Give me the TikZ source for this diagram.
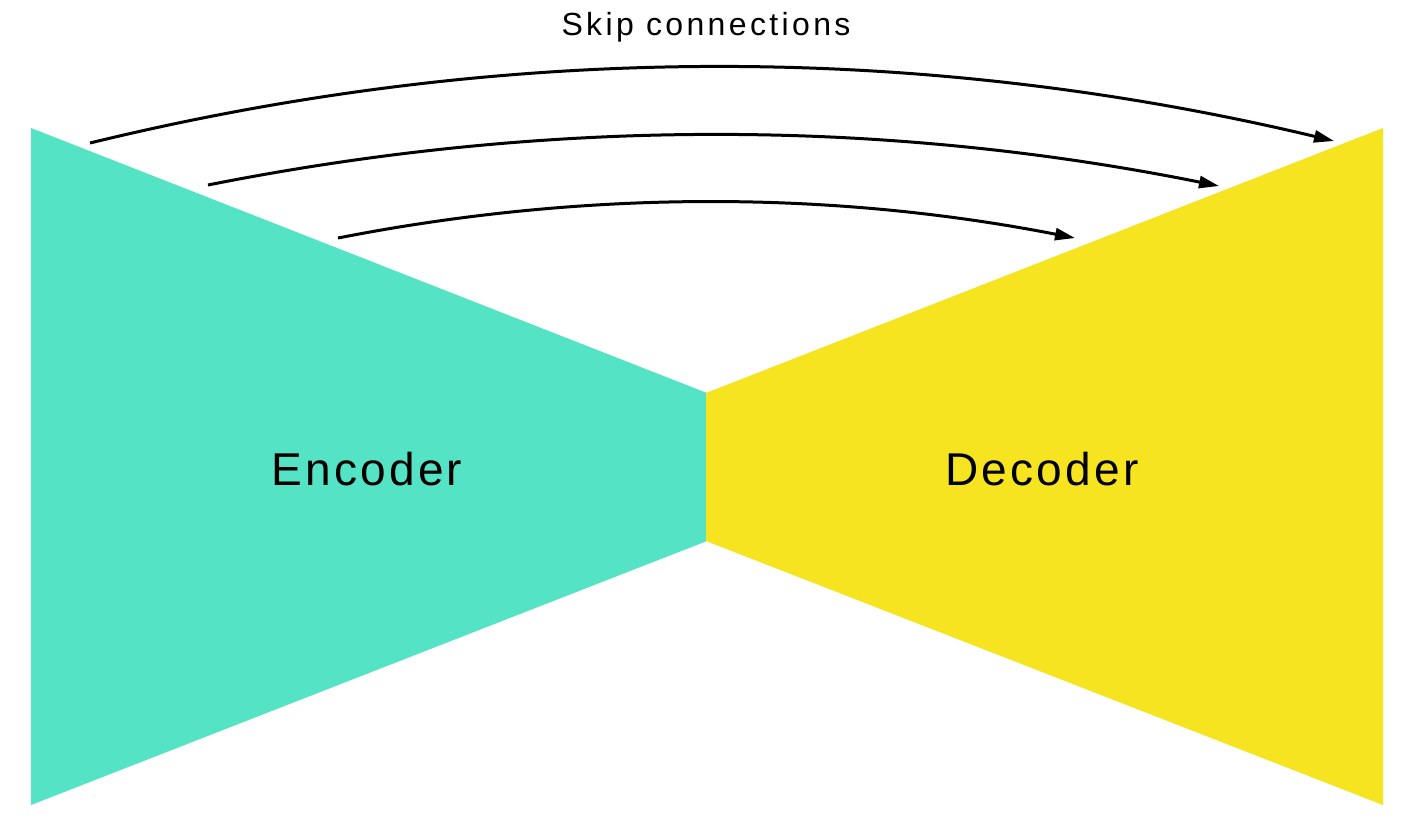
\documentclass[tikz,border=0pt]{standalone}
\usepackage{fontspec}
\setmainfont{Liberation Sans}
\newfontfamily\labfont[LetterSpace=7]{Liberation Sans}
\newfontfamily\topfont[LetterSpace=10.5]{Liberation Sans}
\usetikzlibrary{arrows.meta}
\definecolor{enccol}{RGB}{84,227,196}
\definecolor{deccol}{RGB}{246,228,32}
\tikzset{
  skiparrow/.style={line width=3pt, -{Triangle[length=20pt,width=12pt]}},
  bigtext/.style={font=\labfont\fontsize{46}{50}\selectfont, anchor=base, inner sep=0pt},
  toptext/.style={font=\topfont\fontsize{32}{36}\selectfont, anchor=base, inner sep=0pt}
}
\begin{document}
\begin{tikzpicture}[x=1pt,y=-1pt]
\useasboundingbox (0,0) rectangle (1404,839);
\fill[white] (0,0) rectangle (1404,839);
\fill[enccol] (31,128) -- (707,393) -- (707,541) -- (31,805) -- cycle;
\fill[deccol] (706,393) -- (1383,128) -- (1383,805) -- (706,541) -- cycle;
\node[bigtext] (enc) at (367,485) {Encoder};
\node[bigtext] (dec) at (1042,485) {Decoder};
\node[toptext] (skip) at (706,35) {Skip connections};
\coordinate (a1) at (90,143);
\coordinate (b1) at (1334,141);
\coordinate (a2) at (208,185);
\coordinate (b2) at (1219,186);
\coordinate (a3) at (338,238);
\coordinate (b3) at (1075,238);
\draw[skiparrow] (a1) .. controls (504,42) and (919,42) .. (b1);
\draw[skiparrow] (a2) .. controls (545,118) and (881,118) .. (b2);
\draw[skiparrow] (a3) .. controls (583,190) and (829,190) .. (b3);
\end{tikzpicture}
\end{document}
